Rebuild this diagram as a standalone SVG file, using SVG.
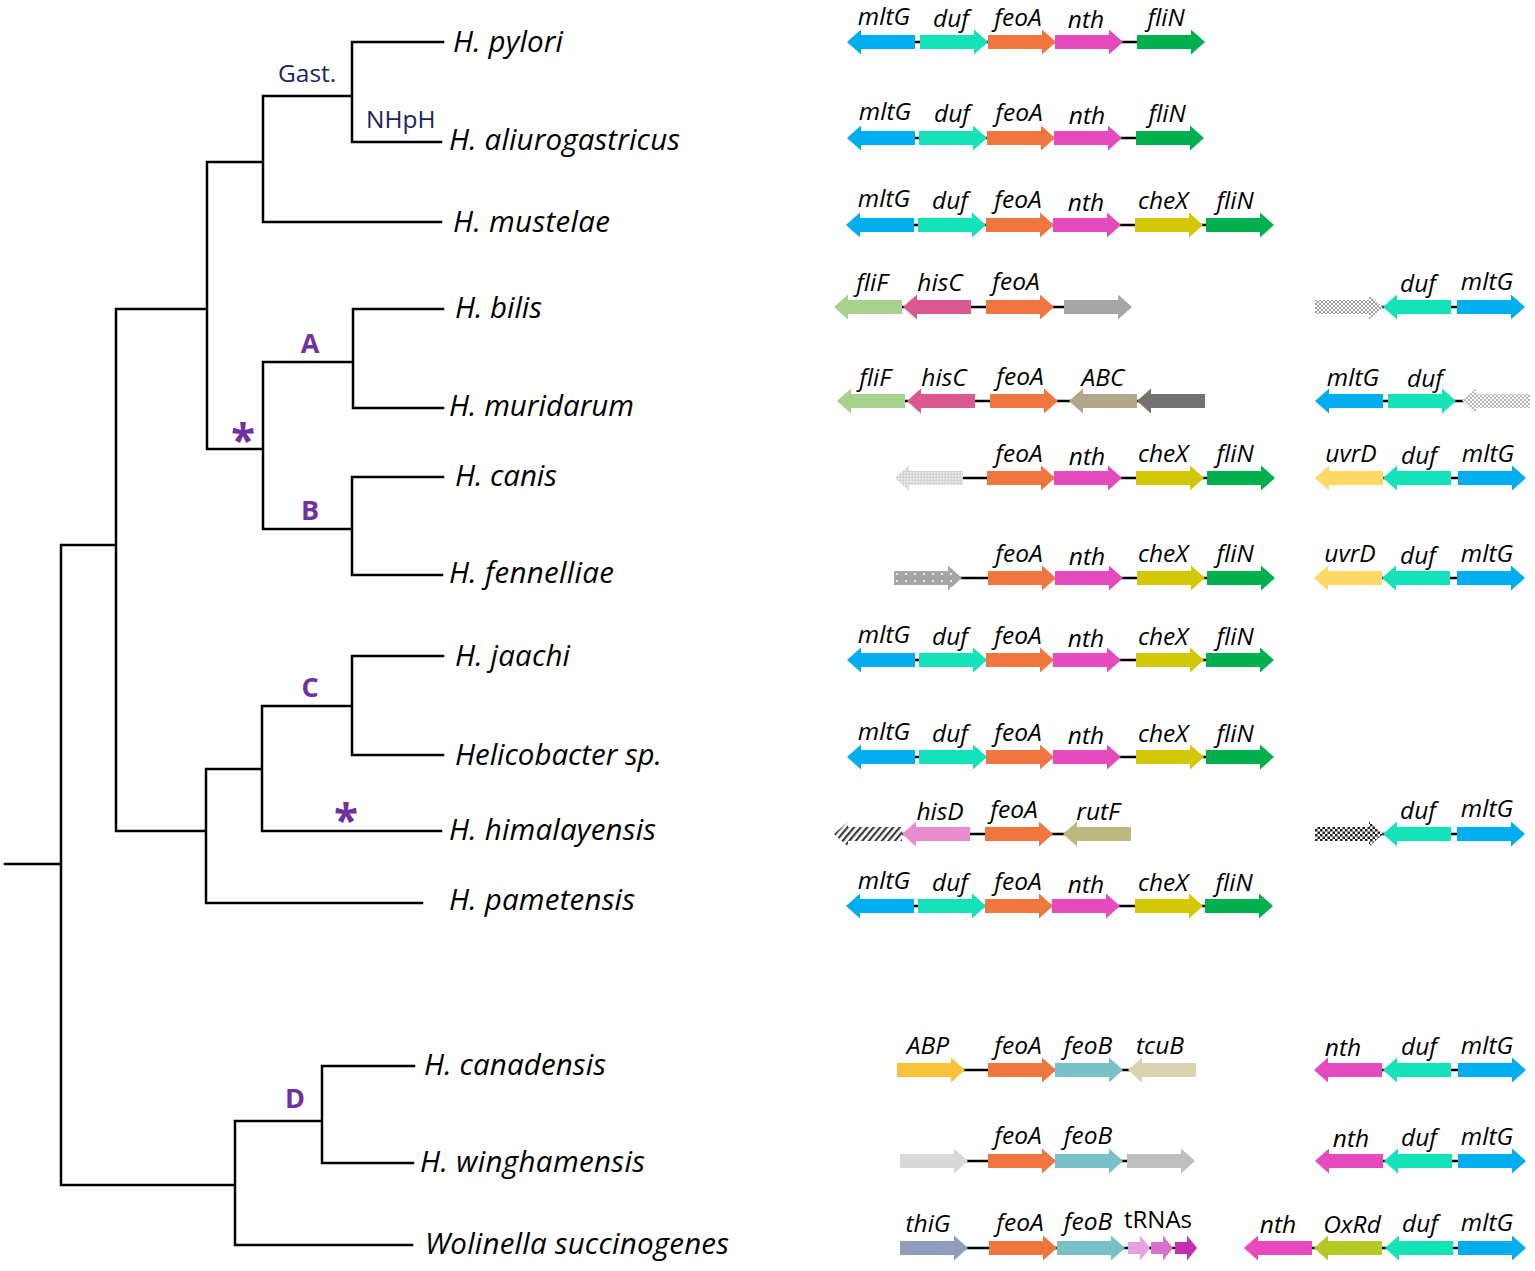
<svg xmlns="http://www.w3.org/2000/svg" xmlns:xlink="http://www.w3.org/1999/xlink" width="1535" height="1271" viewBox="0 0 1535 1271">
<style>
.sp{font-family:"Open Sans","Liberation Sans",sans-serif;font-style:italic;font-size:29.5px;fill:#000}
.g{font-family:"Open Sans","Liberation Sans",sans-serif;font-style:italic;font-size:24.5px;fill:#000;text-anchor:middle}
.gn{font-family:"Open Sans","Liberation Sans",sans-serif;font-size:24px;fill:#000;text-anchor:middle}
.nav{font-family:"Open Sans","Liberation Sans",sans-serif;font-size:24.5px;fill:#1b2563}
.cl{font-family:"Open Sans","Liberation Sans",sans-serif;font-weight:bold;font-size:27px;fill:#7030a0;text-anchor:middle}
.ast{font-family:"Open Sans","Liberation Sans",sans-serif;font-weight:bold;font-size:44px;fill:#7030a0;text-anchor:middle}
.tree{stroke:#000;stroke-width:2.5;fill:none;stroke-linecap:square}
.ln{stroke:#000;stroke-width:2.5}
.mltG{fill:#00aeef}.duf{fill:#14e2b9}.feoA{fill:#ef763e}.nth{fill:#e64bbd}.fliN{fill:#00b04f}
.cheX{fill:#d3c806}.fliF{fill:#a9d18e}.hisC{fill:#d8588f}.gry{fill:#a6a6a6}.ABC{fill:#b3a68a}
.dkg{fill:#767171}.uvrD{fill:#ffd966}.hisD{fill:#e98bcf}.rutF{fill:#bdb880}.ABP{fill:#f8c23a}
.feoB{fill:#78c1c6}.tcuB{fill:#d8d3b0}.lgr{fill:#d9d9d9}.gr2{fill:#bfbfbf}.thiG{fill:#8f9cbd}
.OxRd{fill:#b4c826}.t1{fill:#e6a2e0}.t2{fill:#d770cf}.t3{fill:#c52fae}
</style>
<defs>
<path id="R" d="M0,-7H54V-12.5L68,0L54,12.5V7H0Z"/>
<path id="L" d="M68,-7H14V-12.5L0,0L14,12.5V7H68Z"/>
<path id="S" d="M0,-6H12V-12.5L22,0L12,12.5V6H0Z"/>
<pattern id="p1" width="4" height="4" patternUnits="userSpaceOnUse"><rect width="4" height="4" fill="#fff"/><rect width="2" height="2" fill="#9a9a9a"/><rect x="2" y="2" width="2" height="2" fill="#9a9a9a"/></pattern>
<pattern id="p2" width="4" height="4" patternUnits="userSpaceOnUse"><rect width="4" height="4" fill="#fff"/><rect width="2" height="2" fill="#b5b5b5"/><rect x="2" y="2" width="2" height="2" fill="#b5b5b5"/></pattern>
<pattern id="p3" width="3" height="3" patternUnits="userSpaceOnUse"><rect width="3" height="3" fill="#d4d4d4"/><rect width="1.5" height="1.5" fill="#f4f4f4"/></pattern>
<pattern id="p4" width="9" height="7" patternUnits="userSpaceOnUse"><rect width="9" height="7" fill="#a6a6a6"/><circle cx="3" cy="3" r="1" fill="#fff"/></pattern>
<pattern id="p5" width="5" height="5" patternUnits="userSpaceOnUse" patternTransform="rotate(40)"><rect width="5" height="5" fill="#fff"/><rect width="2.2" height="5" fill="#3a3a3a"/></pattern>
<pattern id="p6" width="5" height="5" patternUnits="userSpaceOnUse"><rect width="5" height="5" fill="#fff"/><rect width="2.5" height="2.5" fill="#222"/><rect x="2.5" y="2.5" width="2.5" height="2.5" fill="#222"/></pattern>
</defs>
<rect width="1535" height="1271" fill="#fff"/>

<g id="connectors">
<path class="tree" d="M5,864H61M61,545V1185M61,545H116M116,309V831M116,309H207M207,162V449M207,162H263M263,96V222M263,96H352M352,42V142M352,42H443M352,142H441M263,222H441M207,449H263M263,362V529M263,362H353M353,309V408M353,309H443M353,408H443M263,529H352M352,477V575M352,477H443M352,575H442M116,831H206M206,769V903M206,769H262M262,706V831M262,706H352M352,656V755M352,656H443M352,755H443M262,831H441M206,903H422M61,1185H235M235,1121V1245M235,1121H322M322,1066V1163M322,1066H414M322,1163H413M235,1245H412"/>
</g>

<g id="clade-labels">
<text class="nav" x="278" y="82">Gast.</text>
<text class="nav" x="366" y="128">NHpH</text>
<text class="cl" x="310" y="353">A</text>
<text class="cl" x="310" y="520">B</text>
<text class="cl" x="310" y="697">C</text>
<text class="cl" x="295" y="1108">D</text>
<text class="ast" x="243" y="456">*</text>
<text class="ast" x="346" y="836">*</text>
</g>

<g id="n-pylori">
<text class="sp" x="453" y="52" textLength="110">H. pylori</text>
<line class="ln" x1="850" y1="42" x2="1200" y2="42"/>
<use href="#L" x="847" y="42" class="mltG"/><use href="#R" x="920" y="42" class="duf"/><use href="#R" x="988" y="42" class="feoA"/><use href="#R" x="1055" y="42" class="nth"/><use href="#R" x="1137" y="42" class="fliN"/>
<text class="g" x="884" y="25">mltG</text><text class="g" x="951" y="27">duf</text><text class="g" x="1018" y="26">feoA</text><text class="g" x="1086" y="28">nth</text><text class="g" x="1166" y="26">fliN</text>
</g>

<g id="n-aliurogastricus">
<text class="sp" x="449" y="150" textLength="231">H. aliurogastricus</text>
<line class="ln" x1="850" y1="138" x2="1200" y2="138"/>
<use href="#L" x="847" y="138" class="mltG"/><use href="#R" x="919" y="138" class="duf"/><use href="#R" x="987" y="138" class="feoA"/><use href="#R" x="1054" y="138" class="nth"/><use href="#R" x="1136" y="138" class="fliN"/>
<text class="g" x="885" y="120">mltG</text><text class="g" x="952" y="122">duf</text><text class="g" x="1019" y="121">feoA</text><text class="g" x="1087" y="124">nth</text><text class="g" x="1167" y="122">fliN</text>
</g>

<g id="n-mustelae">
<text class="sp" x="453" y="232" textLength="157">H. mustelae</text>
<line class="ln" x1="850" y1="225" x2="1268" y2="225"/>
<use href="#L" x="846" y="225" class="mltG"/><use href="#R" x="918" y="225" class="duf"/><use href="#R" x="986" y="225" class="feoA"/><use href="#R" x="1053" y="225" class="nth"/><use href="#R" x="1135" y="225" class="cheX"/><use href="#R" x="1206" y="225" class="fliN"/>
<text class="g" x="884" y="207">mltG</text><text class="g" x="950" y="209">duf</text><text class="g" x="1018" y="208">feoA</text><text class="g" x="1086" y="211">nth</text><text class="g" x="1163" y="209">cheX</text><text class="g" x="1235" y="209">fliN</text>
</g>

<g id="n-bilis">
<text class="sp" x="455" y="318" textLength="87">H. bilis</text>
<line class="ln" x1="840" y1="307" x2="1128" y2="307"/>
<use href="#L" x="834" y="307" class="fliF"/><use href="#L" x="903" y="307" class="hisC"/><use href="#R" x="986" y="307" class="feoA"/><use href="#R" x="1064" y="307" class="gry"/>
<text class="g" x="872" y="291">fliF</text><text class="g" x="940" y="291">hisC</text><text class="g" x="1016" y="290">feoA</text>
<line class="ln" x1="1320" y1="307" x2="1520" y2="307"/>
<use href="#R" x="1315" y="307" fill="url(#p1)"/><use href="#L" x="1383" y="307" class="duf"/><use href="#R" x="1457" y="307" class="mltG"/>
<text class="g" x="1418" y="292">duf</text><text class="g" x="1487" y="290">mltG</text>
</g>

<g id="n-muridarum">
<text class="sp" x="449" y="416">H. muridarum</text>
<line class="ln" x1="842" y1="401" x2="1200" y2="401"/>
<use href="#L" x="837" y="401" class="fliF"/><use href="#L" x="907" y="401" class="hisC"/><use href="#R" x="990" y="401" class="feoA"/><use href="#L" x="1069" y="401" class="ABC"/><use href="#L" x="1137" y="401" class="dkg"/>
<text class="g" x="875" y="386">fliF</text><text class="g" x="944" y="386">hisC</text><text class="g" x="1020" y="385">feoA</text><text class="g" x="1103" y="386">ABC</text>
<line class="ln" x1="1320" y1="401" x2="1520" y2="401"/>
<use href="#L" x="1315" y="401" class="mltG"/><use href="#R" x="1388" y="401" class="duf"/><use href="#L" x="1462" y="401" fill="url(#p2)"/>
<text class="g" x="1353" y="386">mltG</text><text class="g" x="1425" y="387">duf</text>
</g>

<g id="n-canis">
<text class="sp" x="455" y="486" textLength="102">H. canis</text>
<line class="ln" x1="900" y1="478" x2="1268" y2="478"/>
<use href="#L" x="895" y="478" fill="url(#p3)"/><use href="#R" x="987" y="478" class="feoA"/><use href="#R" x="1054" y="478" class="nth"/><use href="#R" x="1136" y="478" class="cheX"/><use href="#R" x="1207" y="478" class="fliN"/>
<text class="g" x="1019" y="462">feoA</text><text class="g" x="1087" y="465">nth</text><text class="g" x="1163" y="462">cheX</text><text class="g" x="1235" y="462">fliN</text>
<line class="ln" x1="1320" y1="478" x2="1520" y2="478"/>
<use href="#L" x="1315" y="478" class="uvrD"/><use href="#L" x="1383" y="478" class="duf"/><use href="#R" x="1458" y="478" class="mltG"/>
<text class="g" x="1351" y="462">uvrD</text><text class="g" x="1419" y="464">duf</text><text class="g" x="1488" y="462">mltG</text>
</g>

<g id="n-fennelliae">
<text class="sp" x="449" y="583" textLength="165">H. fennelliae</text>
<line class="ln" x1="900" y1="578" x2="1268" y2="578"/>
<use href="#R" x="894" y="578" fill="url(#p4)"/><use href="#R" x="988" y="578" class="feoA"/><use href="#R" x="1055" y="578" class="nth"/><use href="#R" x="1137" y="578" class="cheX"/><use href="#R" x="1207" y="578" class="fliN"/>
<text class="g" x="1019" y="562">feoA</text><text class="g" x="1087" y="565">nth</text><text class="g" x="1163" y="562">cheX</text><text class="g" x="1235" y="562">fliN</text>
<line class="ln" x1="1320" y1="578" x2="1520" y2="578"/>
<use href="#L" x="1314" y="578" class="uvrD"/><use href="#L" x="1382" y="578" class="duf"/><use href="#R" x="1457" y="578" class="mltG"/>
<text class="g" x="1350" y="562">uvrD</text><text class="g" x="1418" y="564">duf</text><text class="g" x="1487" y="562">mltG</text>
</g>

<g id="n-jaachi">
<text class="sp" x="455" y="666" textLength="115">H. jaachi</text>
<line class="ln" x1="850" y1="660" x2="1268" y2="660"/>
<use href="#L" x="847" y="660" class="mltG"/><use href="#R" x="919" y="660" class="duf"/><use href="#R" x="986" y="660" class="feoA"/><use href="#R" x="1053" y="660" class="nth"/><use href="#R" x="1136" y="660" class="cheX"/><use href="#R" x="1206" y="660" class="fliN"/>
<text class="g" x="884" y="643">mltG</text><text class="g" x="950" y="645">duf</text><text class="g" x="1018" y="644">feoA</text><text class="g" x="1086" y="647">nth</text><text class="g" x="1163" y="645">cheX</text><text class="g" x="1235" y="645">fliN</text>
</g>

<g id="n-helicobacter-sp">
<text class="sp" x="455" y="765" textLength="207">Helicobacter sp.</text>
<line class="ln" x1="850" y1="757" x2="1268" y2="757"/>
<use href="#L" x="847" y="757" class="mltG"/><use href="#R" x="919" y="757" class="duf"/><use href="#R" x="986" y="757" class="feoA"/><use href="#R" x="1053" y="757" class="nth"/><use href="#R" x="1136" y="757" class="cheX"/><use href="#R" x="1206" y="757" class="fliN"/>
<text class="g" x="884" y="740">mltG</text><text class="g" x="950" y="742">duf</text><text class="g" x="1018" y="741">feoA</text><text class="g" x="1086" y="744">nth</text><text class="g" x="1163" y="742">cheX</text><text class="g" x="1235" y="742">fliN</text>
</g>

<g id="n-himalayensis">
<text class="sp" x="449" y="840" textLength="207">H. himalayensis</text>
<line class="ln" x1="840" y1="834" x2="1128" y2="834"/>
<use href="#L" x="834" y="834" fill="url(#p5)"/><use href="#L" x="902" y="834" class="hisD"/><use href="#R" x="985" y="834" class="feoA"/><use href="#L" x="1063" y="834" class="rutF"/>
<text class="g" x="940" y="820">hisD</text><text class="g" x="1014" y="818">feoA</text><text class="g" x="1098" y="820">rutF</text>
<line class="ln" x1="1320" y1="834" x2="1520" y2="834"/>
<use href="#R" x="1315" y="834" fill="url(#p6)"/><use href="#L" x="1383" y="834" class="duf"/><use href="#R" x="1457" y="834" class="mltG"/>
<text class="g" x="1418" y="819">duf</text><text class="g" x="1487" y="817">mltG</text>
</g>

<g id="n-pametensis">
<text class="sp" x="449" y="910" textLength="186">H. pametensis</text>
<line class="ln" x1="850" y1="906" x2="1268" y2="906"/>
<use href="#L" x="846" y="906" class="mltG"/><use href="#R" x="918" y="906" class="duf"/><use href="#R" x="985" y="906" class="feoA"/><use href="#R" x="1052" y="906" class="nth"/><use href="#R" x="1135" y="906" class="cheX"/><use href="#R" x="1205" y="906" class="fliN"/>
<text class="g" x="884" y="889">mltG</text><text class="g" x="950" y="891">duf</text><text class="g" x="1018" y="890">feoA</text><text class="g" x="1086" y="893">nth</text><text class="g" x="1163" y="891">cheX</text><text class="g" x="1234" y="891">fliN</text>
</g>

<g id="n-canadensis">
<text class="sp" x="424" y="1075" textLength="182">H. canadensis</text>
<line class="ln" x1="900" y1="1070" x2="1190" y2="1070"/>
<use href="#R" x="897" y="1070" class="ABP"/><use href="#R" x="988" y="1070" class="feoA"/><use href="#R" x="1055" y="1070" class="feoB"/><use href="#L" x="1128" y="1070" class="tcuB"/>
<text class="g" x="928" y="1054">ABP</text><text class="g" x="1018" y="1054">feoA</text><text class="g" x="1088" y="1054">feoB</text><text class="g" x="1160" y="1054">tcuB</text>
<line class="ln" x1="1320" y1="1070" x2="1520" y2="1070"/>
<use href="#L" x="1314" y="1070" class="nth"/><use href="#L" x="1383" y="1070" class="duf"/><use href="#R" x="1458" y="1070" class="mltG"/>
<text class="g" x="1343" y="1056">nth</text><text class="g" x="1419" y="1055">duf</text><text class="g" x="1487" y="1054">mltG</text>
</g>

<g id="n-winghamensis">
<text class="sp" x="420" y="1172" textLength="225">H. winghamensis</text>
<line class="ln" x1="905" y1="1161" x2="1190" y2="1161"/>
<use href="#R" x="900" y="1161" class="lgr"/><use href="#R" x="988" y="1161" class="feoA"/><use href="#R" x="1055" y="1161" class="feoB"/><use href="#R" x="1127" y="1161" class="gr2"/>
<text class="g" x="1018" y="1144">feoA</text><text class="g" x="1088" y="1144">feoB</text>
<line class="ln" x1="1320" y1="1161" x2="1520" y2="1161"/>
<use href="#L" x="1315" y="1161" class="nth"/><use href="#L" x="1384" y="1161" class="duf"/><use href="#R" x="1458" y="1161" class="mltG"/>
<text class="g" x="1351" y="1147">nth</text><text class="g" x="1419" y="1146">duf</text><text class="g" x="1487" y="1145">mltG</text>
</g>

<g id="n-wolinella">
<text class="sp" x="425" y="1254" textLength="304">Wolinella succinogenes</text>
<line class="ln" x1="905" y1="1248" x2="1190" y2="1248"/>
<use href="#R" x="900" y="1248" class="thiG"/><use href="#R" x="989" y="1248" class="feoA"/><use href="#R" x="1057" y="1248" class="feoB"/>
<use href="#S" x="1128" y="1248" class="t1"/><use href="#S" x="1151" y="1248" class="t2"/><use href="#S" x="1175" y="1248" class="t3"/>
<text class="g" x="928" y="1232">thiG</text><text class="g" x="1020" y="1231">feoA</text><text class="g" x="1088" y="1230">feoB</text><text class="gn" x="1158" y="1228">tRNAs</text>
<line class="ln" x1="1250" y1="1248" x2="1520" y2="1248"/>
<use href="#L" x="1244" y="1248" class="nth"/><use href="#L" x="1314" y="1248" class="OxRd"/><use href="#L" x="1385" y="1248" class="duf"/><use href="#R" x="1458" y="1248" class="mltG"/>
<text class="g" x="1278" y="1233">nth</text><text class="g" x="1352" y="1233">OxRd</text><text class="g" x="1420" y="1232">duf</text><text class="g" x="1487" y="1231">mltG</text>
</g>
</svg>
